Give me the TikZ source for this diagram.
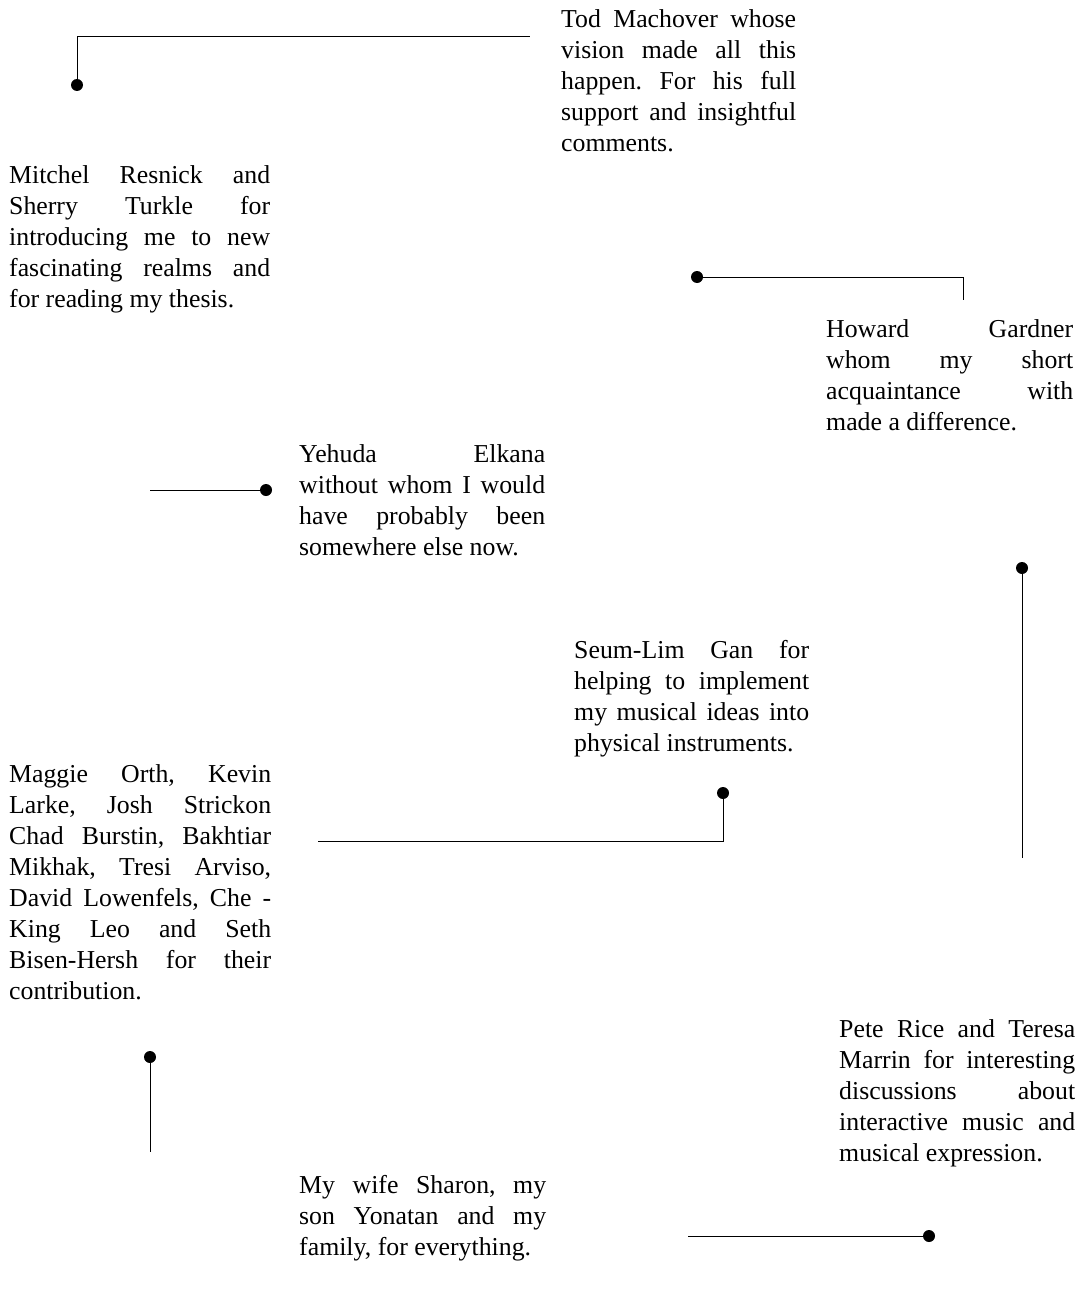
\documentclass[tikz,border=0pt]{standalone}
\usepackage{fontspec}
\setmainfont{Liberation Serif}
\usetikzlibrary{positioning}
\tolerance=10000
\hyphenpenalty=10000
\frenchspacing

\begin{document}
\begin{tikzpicture}[
  x=1pt, y=-1pt,
  blurb/.style={anchor=north west, inner sep=0pt, align=justify, font=\fontsize{25.8}{31}\selectfont},
  pin/.style={circle, fill=black, inner sep=0pt, minimum size=12pt},
  lead/.style={line width=1pt}
]
\useasboundingbox (0,0) rectangle (1081,1292);

% Text blocks
\node[blurb, text width=235pt] (tod) at (561,9) {Tod Machover whose\linebreak vision made all this\linebreak happen. For his full\linebreak support and insightful\linebreak comments.};
\node[blurb, text width=261pt] (mitchel) at (9,165) {Mitchel Resnick and\linebreak Sherry Turkle for\linebreak introducing me to new\linebreak fascinating realms and\linebreak for reading my thesis.};
\node[blurb, text width=247pt] (gardner) at (826,319) {Howard Gardner\linebreak whom my short\linebreak acquaintance with\linebreak made a difference.};
\node[blurb, text width=246pt] (elkana) at (299,444) {Yehuda Elkana\linebreak without whom I would\linebreak have probably been\linebreak somewhere else now.};
\node[blurb, text width=235pt] (gan) at (574,640) {Seum-Lim Gan for\linebreak helping to implement\linebreak my musical ideas into\linebreak physical instruments.};
\node[blurb, text width=262pt] (team) at (9,764) {Maggie Orth, Kevin\linebreak Larke, Josh Strickon\linebreak Chad Burstin, Bakhtiar\linebreak Mikhak, Tresi Arviso,\linebreak David Lowenfels, Che -\linebreak King Leo and Seth\linebreak Bisen-Hersh for their\linebreak contribution.};
\node[blurb, text width=236pt] (rice) at (839,1019) {Pete Rice and Teresa\linebreak Marrin for interesting\linebreak discussions about\linebreak interactive music and\linebreak musical expression.};
\node[blurb, text width=247pt] (family) at (299,1175) {My wife Sharon, my\linebreak son Yonatan and my\linebreak family, for everything.};

% Dots and free ends
\node[pin] (dot_top) at (77,85) {};
\coordinate (end_top) at (530,37);
\node[pin] (dot_mid) at (697,277) {};
\coordinate (end_mid) at (963,300);
\node[pin] (dot_elkana) at (266,490) {};
\coordinate (end_elkana) at (150,490);
\node[pin] (dot_right) at (1022,568) {};
\coordinate (end_right) at (1022,858);
\node[pin] (dot_gan) at (723,793) {};
\coordinate (end_gan) at (318,841);
\node[pin] (dot_low) at (150,1057) {};
\coordinate (end_low) at (150,1152);
\node[pin] (dot_family) at (929,1236) {};
\coordinate (end_family) at (688,1236);

% Leader lines
\draw[lead] (dot_top) |- (end_top);
\draw[lead] (dot_mid) -| (end_mid);
\draw[lead] (end_elkana) -- (dot_elkana);
\draw[lead] (dot_right) -- (end_right);
\draw[lead] (end_gan) -| (dot_gan);
\draw[lead] (dot_low) -- (end_low);
\draw[lead] (end_family) -- (dot_family);
\end{tikzpicture}
\end{document}
